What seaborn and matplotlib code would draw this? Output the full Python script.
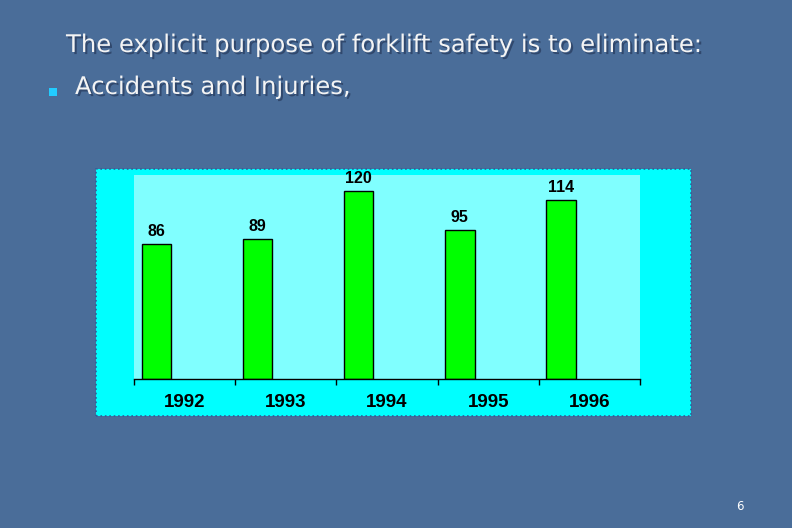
import matplotlib
matplotlib.use("Agg")
import matplotlib.pyplot as plt
import matplotlib.patheffects as pe
from matplotlib.patches import Rectangle
import seaborn as sns
import pandas as pd

years = ["1992", "1993", "1994", "1995", "1996"]
accidents = [86, 89, 120, 95, 114]
title_line = "The explicit purpose of forklift safety is to eliminate:"
bullet_line = "Accidents and Injuries,"
page_no = "6"

df = pd.DataFrame({"year": years, "count": accidents})

sns.set_theme(style="white")
plt.rcParams["font.family"] = ["Liberation Sans", "DejaVu Sans"]

fig = plt.figure(figsize=(7.92, 5.28), dpi=100)
fig.patch.set_facecolor("#4a6d99")

# outer chart frame (cyan with dotted border)
fig.patches.append(Rectangle((96 / 792, 1 - 416 / 528), 595 / 792, 247 / 528,
                             transform=fig.transFigure, facecolor="#00ffff",
                             edgecolor="#2f5f9a", linestyle=":", lw=1.2, zorder=0))

ax = fig.add_axes([134 / 792, 1 - 379 / 528, 506 / 792, 204 / 528])
ax.set_zorder(2)
ax.set_facecolor("#80ffff")

sns.barplot(data=df, x="year", y="count", color="#00ff00", edgecolor="black",
            linewidth=1, width=0.29, saturation=1, ax=ax)
# bars sit at the left of each category slot
for p in ax.patches:
    p.set_x(p.get_x() - 0.28)

for p, v in zip(ax.patches, accidents):
    ax.text(p.get_x() + p.get_width() / 2, v + 3.2, str(v), ha="center", va="bottom",
            fontsize=11.5, fontweight="bold", color="black")

ax.set_xlim(-0.5, 4.5)
ax.set_ylim(0, 130)
ax.set_xlabel("")
ax.set_ylabel("")
ax.set_yticks([])
for s in ["left", "right", "top"]:
    ax.spines[s].set_visible(False)
ax.spines["bottom"].set_color("black")
ax.spines["bottom"].set_linewidth(1)
ax.set_xticks(range(len(years)))
ax.set_xticklabels(years, fontsize=13.5, fontweight="bold", color="black")
ax.set_xticks([i - 0.5 for i in range(len(years) + 1)], minor=True)
ax.tick_params(axis="x", which="major", length=0, pad=11)
ax.tick_params(axis="x", which="minor", length=4, width=1, color="black", direction="out", bottom=True)

shadow = [pe.withSimplePatchShadow(offset=(1.5, -1.5), shadow_rgbFace="#203050", alpha=0.6)]
fig.text(66 / 792, 1 - 45 / 528, title_line, fontsize=17.5, color="#f4f4f4",
         family="DejaVu Sans", va="center", ha="left", path_effects=shadow)
fig.text(75 / 792, 1 - 87 / 528, bullet_line, fontsize=17.5, color="#f4f4f4",
         family="DejaVu Sans", va="center", ha="left", path_effects=shadow)
fig.patches.append(Rectangle((49 / 792, 1 - 96 / 528), 8 / 792, 8 / 528,
                             transform=fig.transFigure, facecolor="#22ccff", edgecolor="none"))
fig.text(740 / 792, 1 - 507 / 528, page_no, fontsize=8.5, color="white",
         family="DejaVu Sans", va="center", ha="center")

fig.savefig("out.png", dpi=100, facecolor=fig.get_facecolor())
